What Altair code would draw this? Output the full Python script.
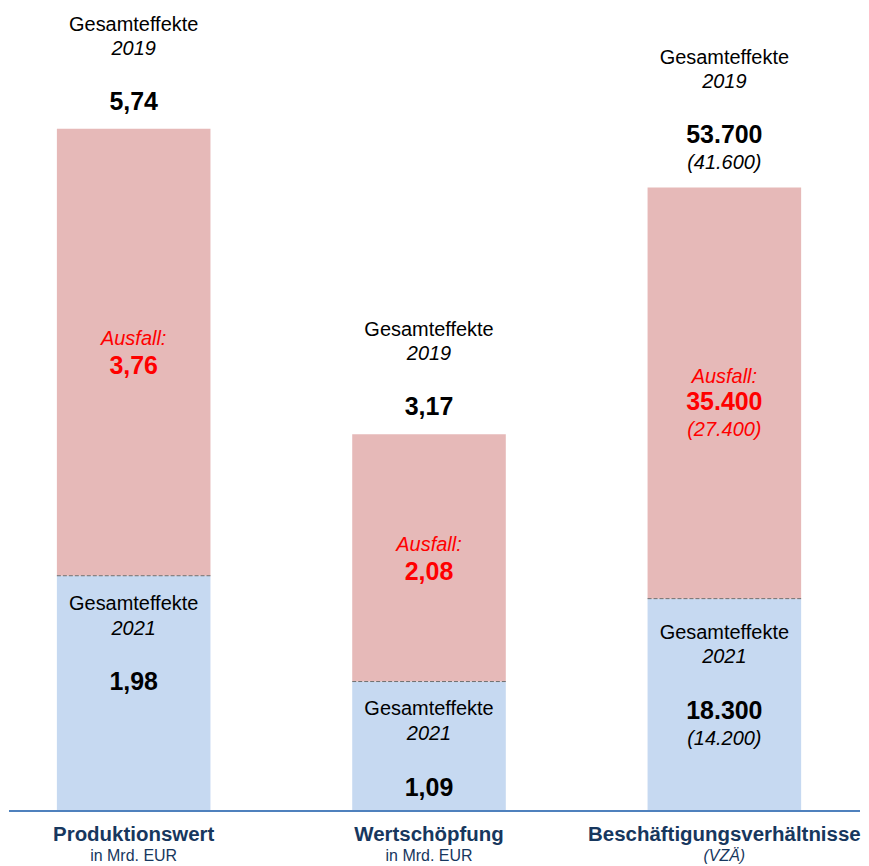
import altair as alt
import pandas as pd

# ---------------- data ----------------
categories = ["Produktionswert", "Wertschöpfung", "Beschäftigungsverhältnisse"]
units = ["in Mrd. EUR", "in Mrd. EUR", "(VZÄ)"]
total_2019 = [5.74, 3.17, 53700]
effekt_2021 = [1.98, 1.09, 18300]
ausfall = [3.76, 2.08, 35400]
vzae_2019 = [None, None, 41600]
vzae_2021 = [None, None, 14200]
vzae_ausfall = [None, None, 27400]

PINK = "#E6B9B8"
BLUE = "#C6D9F1"
NAVY = "#17375E"
RED = "#FF0000"
FONT = "Liberation Sans"

W, H = 853, 804


def fmt(v):
    if isinstance(v, float) and v != int(v):
        return f"{v:.2f}".replace(".", ",")
    return f"{int(v):,}".replace(",", ".")


def group_of(i):
    return "A" if i < 2 else "B"


bars, splits, texts = [], [], []
for i, c in enumerate(categories):
    g = group_of(i)
    bars.append(dict(cat=c, grp=g, seg="2021", lo=0, hi=effekt_2021[i]))
    bars.append(dict(cat=c, grp=g, seg="Ausfall", lo=effekt_2021[i], hi=total_2019[i]))
    splits.append(dict(cat=c, grp=g, v=effekt_2021[i]))
    sub = vzae_2019[i] is not None
    s = 26 if sub else 0
    top = total_2019[i]
    mid = (effekt_2021[i] + total_2019[i]) / 2
    bot = effekt_2021[i]
    rows = [
        ("Gesamteffekte", "normal", top, -104 - s),
        ("2019", "italic", top, -80 - s),
        (fmt(total_2019[i]), "bold", top, -27 - s),
    ]
    if sub:
        rows.append((f"({fmt(vzae_2019[i])})", "italic", top, -25))
        rows += [
            ("Ausfall:", "ritalic", mid, -16),
            (fmt(ausfall[i]), "rbold", mid, 9),
            (f"({fmt(vzae_ausfall[i])})", "ritalic", mid, 37),
            ("Gesamteffekte", "normal", bot, 34),
            ("2021", "italic", bot, 59),
            (fmt(effekt_2021[i]), "bold", bot, 113),
            (f"({fmt(vzae_2021[i])})", "italic", bot, 141),
        ]
    else:
        rows += [
            ("Ausfall:", "ritalic", mid, -13),
            (fmt(ausfall[i]), "rbold", mid, 14),
            ("Gesamteffekte", "normal", bot, 28),
            ("2021", "italic", bot, 53),
            (fmt(effekt_2021[i]), "bold", bot, 107),
        ]
    for t, st, a, dy in rows:
        texts.append(dict(cat=c, grp=g, text=t, style=st, anchor=a, dy=dy))

bars_df = pd.DataFrame(bars)
splits_df = pd.DataFrame(splits)
texts_df = pd.DataFrame(texts)
labels_df = pd.DataFrame(dict(cat=categories, unit=units))

XSCALE = alt.Scale(domain=categories, range=[48, 794], paddingInner=0.48, paddingOuter=0)
xenc = alt.X("cat:N", sort=categories, scale=XSCALE, axis=None)

styles = {
    "normal": dict(color="black", fontSize=20, fontStyle="normal", fontWeight="normal"),
    "italic": dict(color="black", fontSize=20, fontStyle="italic", fontWeight="normal"),
    "bold": dict(color="black", fontSize=25, fontStyle="normal", fontWeight="bold"),
    "ritalic": dict(color=RED, fontSize=20, fontStyle="italic", fontWeight="normal"),
    "rbold": dict(color=RED, fontSize=25, fontStyle="normal", fontWeight="bold"),
}

domains = {"A": [0, 6.747], "B": [0, 69080]}

layers = []
for g, dom in domains.items():
    yscale = alt.Scale(domain=dom, nice=False, zero=True)
    b = alt.Chart(bars_df[bars_df.grp == g]).mark_bar().encode(
        x=xenc,
        y=alt.Y("lo:Q", scale=yscale, axis=None),
        y2="hi:Q",
        color=alt.Color("seg:N", scale=alt.Scale(domain=["2021", "Ausfall"], range=[BLUE, PINK]), legend=None),
    )
    r = alt.Chart(splits_df[splits_df.grp == g]).mark_rule(
        color="#6F6F6F", strokeWidth=1, strokeDash=[4, 2]
    ).encode(
        x=alt.X("cat:N", sort=categories, bandPosition=0, scale=XSCALE, axis=None),
        x2=alt.X2("cat:N", bandPosition=1),
        y=alt.Y("v:Q", scale=yscale, axis=None),
    )
    layers += [b, r]
    gt = texts_df[texts_df.grp == g]
    for (st, dy), sub in gt.groupby(["style", "dy"]):
        props = styles[st]
        t = alt.Chart(sub).mark_text(
            font=FONT, baseline="middle", align="center", dy=int(dy), **props
        ).encode(
            x=xenc,
            y=alt.Y("anchor:Q", scale=yscale, axis=None),
            text="text:N",
        )
        layers.append(t)

baseline = alt.Chart(labels_df).mark_rule(color="#4F81BD", strokeWidth=2).encode(
    x=alt.value(0), x2=alt.value(W), y=alt.value(H)
)
cat_text = alt.Chart(labels_df).mark_text(
    font=FONT, fontSize=20.5, fontWeight="bold", color=NAVY, baseline="middle"
).encode(x=xenc, y=alt.value(H + 24), text="cat:N")
unit_it = alt.Chart(labels_df[labels_df.unit == "(VZÄ)"]).mark_text(
    font=FONT, fontSize=16, color=NAVY, fontStyle="italic", baseline="middle"
).encode(x=xenc, y=alt.value(H + 45), text="unit:N")
unit_text = alt.Chart(labels_df[labels_df.unit != "(VZÄ)"]).mark_text(
    font=FONT, fontSize=16, color=NAVY, baseline="middle"
).encode(x=xenc, y=alt.value(H + 45), text="unit:N")

chart = alt.layer(*layers, baseline, cat_text, unit_text, unit_it).resolve_scale(
    y="independent"
).properties(width=W, height=H, padding=0).configure_view(stroke=None)

chart.save("out.html", embed_options={"renderer": "svg", "actions": False})
